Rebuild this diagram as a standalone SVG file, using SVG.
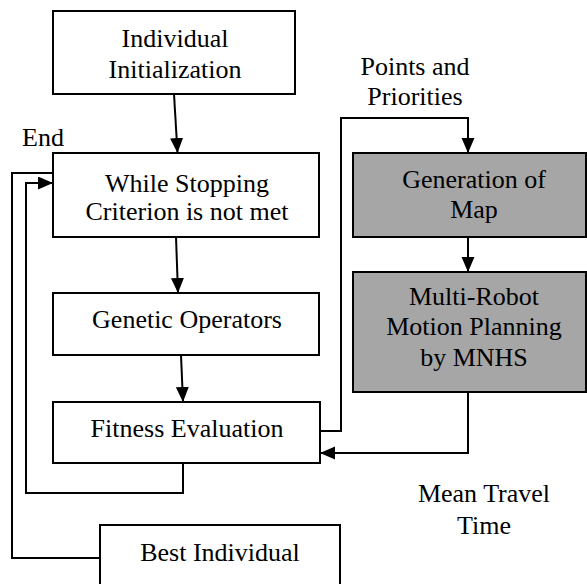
<svg xmlns="http://www.w3.org/2000/svg" width="587" height="584" viewBox="0 0 587 584">
<defs>
<style>
.box{fill:#fff;stroke:#000;stroke-width:2}
.gray{fill:#a6a6a6;stroke:#000;stroke-width:2}
.t{font-family:'Liberation Serif','Times New Roman',serif;font-size:26px;fill:#000;text-anchor:middle}
.c{fill:none;stroke:#000;stroke-width:2}
</style>
<marker id="ah" markerUnits="userSpaceOnUse" markerWidth="16" markerHeight="14" refX="15" refY="6.5" orient="auto">
<path d="M0,0 L15,6.5 L0,13 z" fill="#000"/>
</marker>
</defs>
<rect width="587" height="584" fill="#fff"/>
<g id="init"><rect class="box" x="53" y="11" width="242" height="83"/><text class="t" x="175" y="47">Individual</text><text class="t" x="175" y="78">Initialization</text></g>
<g id="while"><rect class="box" x="53" y="153" width="266" height="84"/><text class="t" x="187" y="192">While Stopping</text><text class="t" x="187" y="220">Criterion is not met</text></g>
<g id="genetic"><rect class="box" x="53" y="293" width="266" height="62"/><text class="t" x="187" y="328">Genetic Operators</text></g>
<g id="fitness"><rect class="box" x="53" y="402" width="267" height="61"/><text class="t" x="187" y="437">Fitness Evaluation</text></g>
<g id="best"><rect class="box" x="100" y="525" width="240" height="80"/><text class="t" x="220" y="561">Best Individual</text></g>
<g id="map"><rect class="gray" x="353" y="153" width="233" height="84"/><text class="t" x="474" y="188">Generation of</text><text class="t" x="474" y="218">Map</text></g>
<g id="mnhs"><rect class="gray" x="353" y="272" width="233" height="120"/><text class="t" x="474" y="305">Multi-Robot</text><text class="t" x="474" y="335">Motion Planning</text><text class="t" x="474" y="366">by MNHS</text></g>
<g id="labels">
<text class="t" x="22" y="146" style="text-anchor:start">End</text>
<text class="t" x="415" y="75">Points and</text>
<text class="t" x="415" y="105">Priorities</text>
<text class="t" x="484" y="502">Mean Travel</text>
<text class="t" x="484" y="534">Time</text>
</g>
<g id="connectors">
<path class="c" d="M174,94 L177.5,153" marker-end="url(#ah)"/>
<path class="c" d="M176,237 L178,293" marker-end="url(#ah)"/>
<path class="c" d="M181,355 L183,402" marker-end="url(#ah)"/>
<path class="c" d="M183,463 V493 H26 V183 H53" marker-end="url(#ah)"/>
<path class="c" d="M100,558 H12 V173 H53"/>
<path class="c" d="M320,431 H341 V118 H468 V153" marker-end="url(#ah)"/>
<path class="c" d="M468,237 V272" marker-end="url(#ah)"/>
<path class="c" d="M468,392 V453 H320" marker-end="url(#ah)"/>
</g>
</svg>
